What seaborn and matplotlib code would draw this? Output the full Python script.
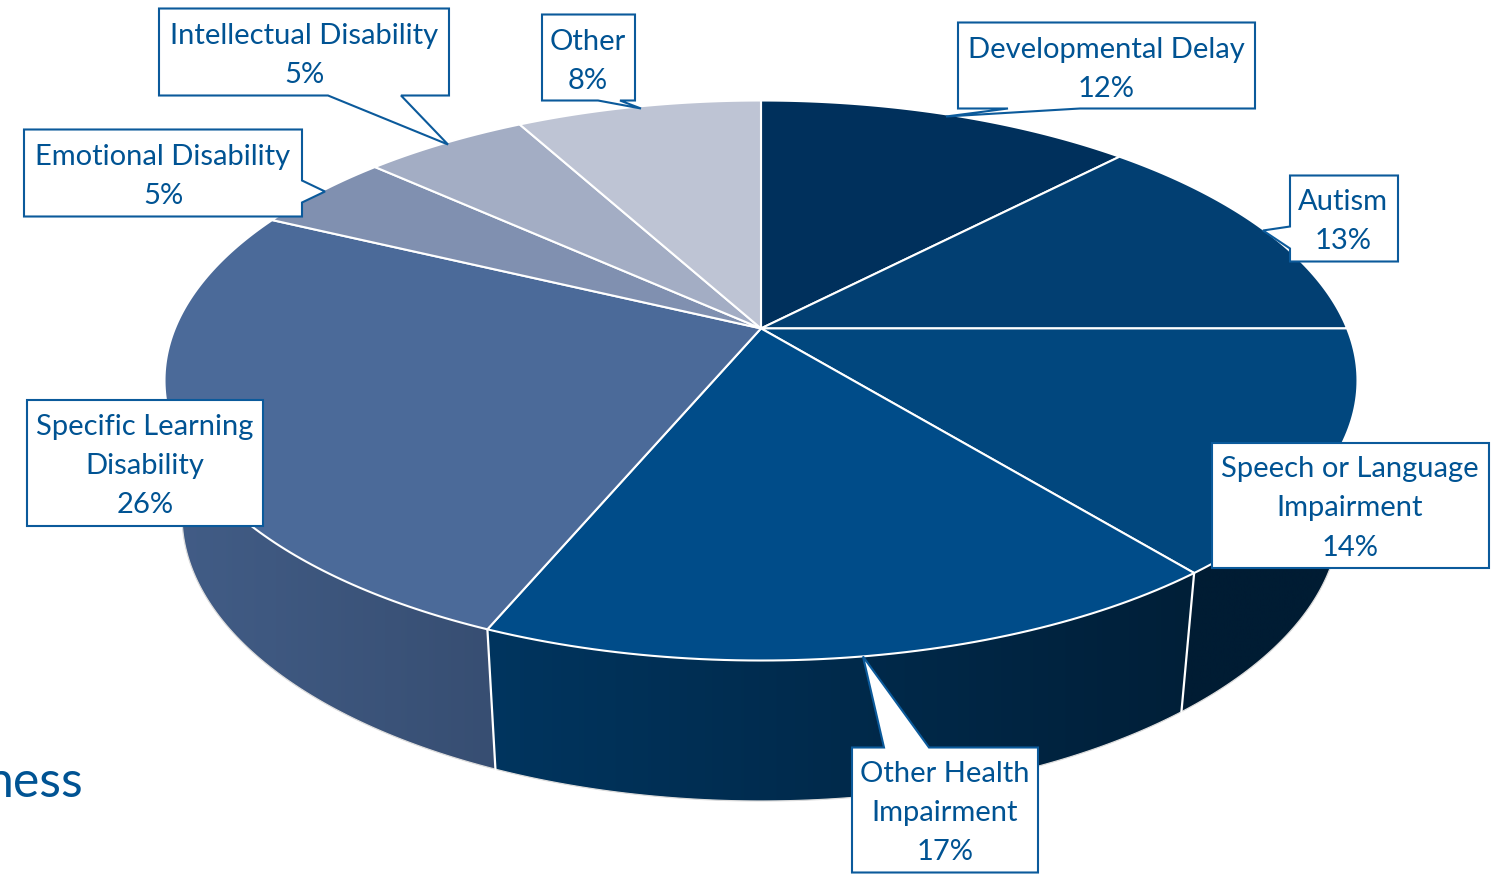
import numpy as np
import seaborn as sns
import matplotlib
matplotlib.use('Agg')
import matplotlib.pyplot as plt
from matplotlib.path import Path
from matplotlib.patches import Polygon
from matplotlib.transforms import Transform, Affine2D

# data (shares estimated from the slice edges, labels show them rounded)
categories = ['Developmental Delay', 'Autism', 'Speech or Language\nImpairment',
              'Other Health\nImpairment', 'Specific Learning\nDisability',
              'Emotional Disability', 'Intellectual Disability', 'Other']
shares = [12.2, 12.8, 14.1, 17.22, 25.81, 4.59, 5.33, 7.95]
top_colors = ['#00305c', '#023f72', '#01477e', '#004c89', '#4b6a99', '#8090b0', '#a3adc4', '#bec4d4']

# wall colours, left end to right end, for the slices facing the viewer
wall_colors = {2: ('#001c33', '#001c33'), 3: ('#00355f', '#001f38'), 4: ('#425d87', '#374e72')}

TEXT_BLUE = '#005393'
LINE_BLUE = '#0b5a9b'
TILT = 0.186  # moves the pie centre up, gives the perspective look


class TiltTransform(Transform):
    """Unit disc to the pie ellipse in pixels, the centre does not stay in the middle."""
    input_dims = 2
    output_dims = 2

    def __init__(self, cx, cy, rx, ry):
        super().__init__()
        self.cx, self.cy, self.rx, self.ry = cx, cy, rx, ry

    def transform_non_affine(self, values):
        values = np.asarray(values, dtype=float)
        u, v = values[:, 0], values[:, 1]
        d = 1 + TILT * v
        x = self.cx + self.rx * u * np.sqrt(1 - TILT ** 2) / d
        y = self.cy - self.ry * (v + TILT) / d
        return np.column_stack([x, y])

    def transform_path_non_affine(self, path):
        # flatten the curves first, bezier control points do not survive this map
        big = Affine2D().scale(3000).transform_path(path)
        poly = big.to_polygons()[0] / 3000
        return Path(self.transform_non_affine(poly), closed=True)


sns.set_theme(style='white')
plt.rcParams['font.family'] = ['Lato', 'DejaVu Sans']

fig = plt.figure(figsize=(15.11, 8.79), dpi=100)
ax = fig.add_axes([0, 0, 1, 1])

top = TiltTransform(761, 381.5, 596.5, 280)
bottom = TiltTransform(761, 516.5, 579, 285.5)

wedges, _ = ax.pie(shares, colors=sns.color_palette(top_colors), startangle=90, counterclock=False,
                   wedgeprops={'edgecolor': 'white', 'linewidth': 1.5, 'zorder': 3})
for w in wedges:
    w.set_transform(top + ax.transData)


def rim(transform, angles):
    rad = np.radians(angles)
    return transform.transform_non_affine(np.column_stack([np.cos(rad), np.sin(rad)]))


# side walls: a left to right gradient clipped to the outline of each wall
for i, (left, right) in wall_colors.items():
    w = wedges[i]
    angles = np.linspace(w.theta1, w.theta2, 120)
    upper, lower = rim(top, angles), rim(bottom, angles)
    outline = np.vstack([upper, lower[::-1]])
    shades = np.array(sns.blend_palette([left, right], 256))[np.newaxis, :, :3]
    im = ax.imshow(shades, extent=(outline[:, 0].min(), outline[:, 0].max(), outline[:, 1].max(), outline[:, 1].min()),
                   aspect='auto', zorder=1, interpolation='bilinear')
    clip = Polygon(outline, closed=True, transform=ax.transData)
    im.set_clip_path(clip)
    ax.plot(lower[:, 0], lower[:, 1], color='#dcdcdc', lw=0.9, zorder=2)

ax.set_aspect('auto')
ax.set_xlim(0, 1511)
ax.set_ylim(879, 0)
ax.axis('off')

# white seams between the walls
for i in (3, 4):
    a = wedges[i].theta2
    seam = np.vstack([rim(top, [a]), rim(bottom, [a])])
    ax.plot(seam[:, 0], seam[:, 1], color='white', lw=1.6, zorder=2)

# callout shapes and text centres, same order as categories
callouts = [
    [(958, 23), (1255, 23), (1255, 109), (1080, 109), (946, 117), (1008, 109), (958, 109)],
    [(1290, 176), (1398, 176), (1398, 262), (1290, 262), (1290, 249), (1263, 231), (1290, 227)],
    [(1212, 443), (1489, 443), (1489, 568), (1212, 568)],
    [(852, 748), (884, 748), (863, 657), (929, 748), (1038, 748), (1038, 873), (852, 873)],
    [(27, 400), (263, 400), (263, 526), (27, 526)],
    [(24, 130), (302, 130), (302, 181), (325, 192), (302, 203), (302, 217), (24, 217)],
    [(159, 9), (449, 9), (449, 96), (401, 96), (448, 145), (328, 96), (159, 96)],
    [(542, 15), (635, 15), (635, 101), (620, 101), (641, 109), (598, 101), (542, 101)],
]
text_centres = [(1106, 69.5), (1343, 221.5), (1350, 508.5), (945, 813), (145, 466), (163, 176.5), (304, 55.5), (588, 61.5)]
callouts = [[(x, y + 0.5) for x, y in shape] for shape in callouts]

for name, share, shape, (tx, ty) in zip(categories, shares, callouts, text_centres):
    ax.add_patch(Polygon(shape, closed=True, facecolor='white', edgecolor=LINE_BLUE,
                         linewidth=1.5, joinstyle='miter', zorder=4, clip_on=False))
    ax.text(tx, ty, f'{name}\n{share:.0f}%', ha='center', va='center', color=TEXT_BLUE,
            fontsize=21, linespacing=1.62, zorder=5)

# leftover of a slide title cut by the crop
ax.text(83, 797, 'ness', ha='right', va='baseline', color=TEXT_BLUE, fontsize=36)

fig.savefig('out.png', dpi=100, facecolor='white')
